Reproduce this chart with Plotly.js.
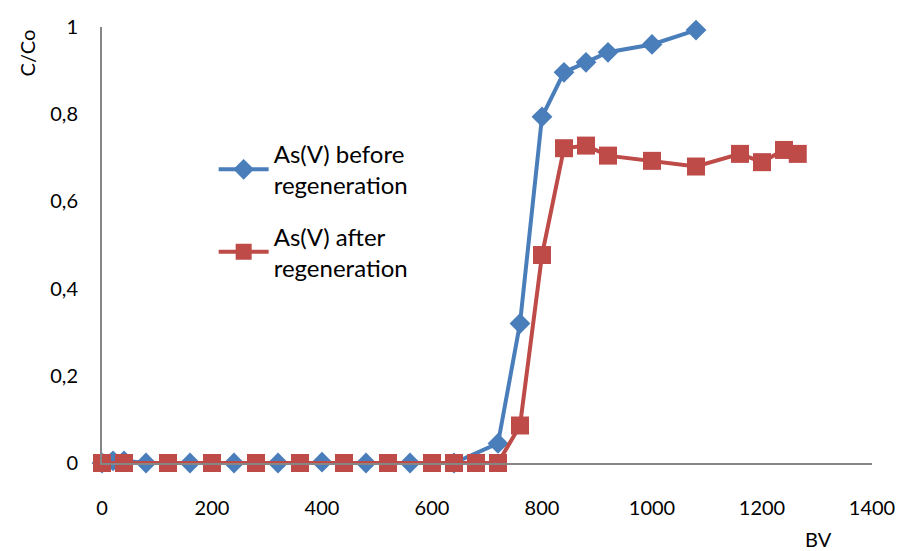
<!DOCTYPE html>
<html>
<head>
<meta charset="utf-8">
<script src="https://cdn.plot.ly/plotly-3.0.1.min.js"></script>
<style>html,body{margin:0;padding:0;background:#fff;}#chart{width:901px;height:551px;}</style>
</head>
<body>
<div id="chart"></div>
<script>
// Data
const beforeBV = [0, 20, 40, 80, 160, 240, 320, 400, 480, 560, 640, 720, 760, 800, 840, 880, 920, 1000, 1080];
const beforeC  = [0, 0.005, 0.005, 0, 0, 0, 0, 0.002, 0, 0, 0, 0.045, 0.32, 0.794, 0.896, 0.919, 0.942, 0.96, 0.993];
const afterBV  = [0, 40, 120, 200, 280, 360, 440, 520, 600, 640, 680, 720, 760, 800, 840, 880, 920, 1000, 1080, 1160, 1200, 1240, 1265];
const afterC   = [0, 0, 0, 0, 0, 0, 0, 0, 0, 0, 0, 0, 0.086, 0.477, 0.722, 0.728, 0.705, 0.693, 0.68, 0.709, 0.69, 0.718, 0.709];
const seriesNames = ["As(V) before<br>regeneration", "As(V) after<br>regeneration"];
const yTicks = [0, 0.2, 0.4, 0.6, 0.8, 1];
const xTicks = [0, 200, 400, 600, 800, 1000, 1200, 1400];

const FONT = "Lato, 'Open Sans', sans-serif";
const traces = [
  {x: beforeBV, y: beforeC, name: seriesNames[0], legendgroup: 'a', type: 'scatter', mode: 'lines+markers',
   line: {color: '#4A7EBB', width: 4}, marker: {symbol: 'diamond', size: 16, color: '#4A7EBB'}, cliponaxis: false},
  {x: afterBV, y: afterC, name: seriesNames[1], legendgroup: 'b', type: 'scatter', mode: 'lines+markers',
   line: {color: '#BE4B48', width: 4}, marker: {symbol: 'square', size: 18, color: '#BE4B48'}, cliponaxis: false}
];
const layout = {
  width: 901, height: 551,
  margin: {l: 102, r: 29, t: 27, b: 88},
  paper_bgcolor: '#fff', plot_bgcolor: '#fff',
  separators: ', ',
  font: {family: FONT, size: 20, color: '#000'},
  showlegend: true,
  legend: {x: 0.145, y: 0.76, xanchor: 'left', yanchor: 'top', bgcolor: 'rgba(0,0,0,0)',
           font: {family: FONT, size: 24, color: '#000'}, itemwidth: 50,
           traceorder: 'grouped', tracegroupgap: 17},
  xaxis: {range: [0, 1400], tickvals: xTicks, showgrid: false, zeroline: false,
          showline: true, linecolor: '#868686', linewidth: 2, ticks: '', ticklabelstandoff: 26,
          tickfont: {family: FONT, size: 20}},
  yaxis: {range: [0, 1], tickvals: yTicks, showgrid: false, zeroline: false,
          showline: true, linecolor: '#868686', linewidth: 2, ticks: '', ticklabelstandoff: 18,
          tickfont: {family: FONT, size: 20}},
  annotations: [
    {text: 'C/Co', xref: 'paper', yref: 'paper', x: -0.097, y: 0.94, textangle: -90,
     showarrow: false, font: {family: FONT, size: 20}, xanchor: 'center', yanchor: 'middle'},
    {text: 'BV', xref: 'paper', yref: 'paper', x: 0.93, y: -0.175, showarrow: false,
     font: {family: FONT, size: 20}, xanchor: 'center', yanchor: 'middle'}
  ]
};
Plotly.newPlot('chart', traces, layout, {displayModeBar: false, staticPlot: true});
</script>
</body>
</html>
